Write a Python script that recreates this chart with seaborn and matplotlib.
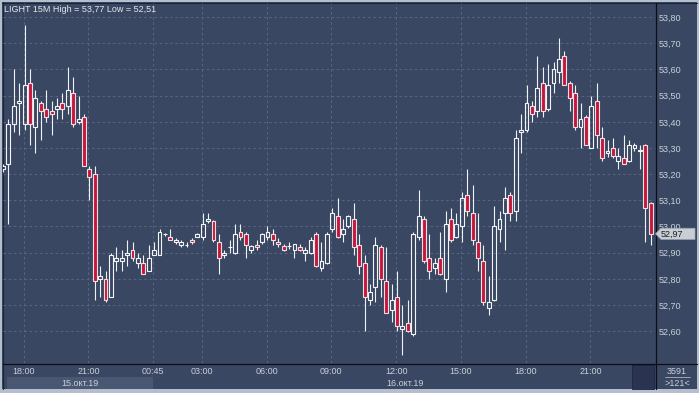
import numpy as np
import matplotlib
matplotlib.use("Agg")
import matplotlib.pyplot as plt
import seaborn as sns
from matplotlib.patches import Rectangle, Polygon
from matplotlib.colors import LinearSegmentedColormap

# ---------------- data (15-minute candles) ----------------
opens = [53.22, 53.24, 53.39, 53.47, 53.39, 53.55, 53.38, 53.47, 53.45, 53.44,
         53.45, 53.47, 53.46, 53.51, 53.40, 53.42, 53.22, 53.20, 52.80, 52.80,
         52.73, 52.87, 52.87, 52.89, 52.91, 52.86, 52.86, 52.83, 52.89, 52.89,
         52.97, 52.96, 52.94, 52.93, 52.93, 52.95, 52.96, 52.96, 53.02, 53.02,
         52.94, 52.89, 52.92, 52.90, 52.98, 52.97, 52.91, 52.93, 52.94, 52.96,
         52.97, 52.94, 52.925, 52.925, 52.91, 52.92, 52.90, 52.90, 52.97, 52.84,
         52.86, 52.99, 53.04, 52.97, 53.00, 53.03, 52.93, 52.86, 52.72, 52.77,
         52.92, 52.79, 52.68, 52.73, 52.61, 52.63, 52.59, 52.96, 53.03, 52.88,
         52.84, 52.88, 52.80, 53.03, 52.96, 53.00, 53.12, 53.05, 52.94, 52.87,
         52.69, 52.72, 52.99, 53.05, 53.12, 53.06, 53.36, 53.37, 53.46, 53.44,
         53.55, 53.45, 53.55, 53.59, 53.65, 53.55, 53.51, 53.38, 53.42, 53.30,
         53.48, 53.34, 53.28, 53.30, 53.25, 53.26, 53.25, 53.30, 53.29, 53.31,
         53.09]
highs = [53.24, 53.41, 53.60, 53.55, 53.77, 53.60, 53.52, 53.48, 53.52, 53.48,
         53.49, 53.51, 53.61, 53.57, 53.50, 53.43, 53.23, 53.23, 52.85, 52.83,
         52.90, 52.92, 52.91, 52.95, 52.94, 52.90, 52.89, 52.93, 52.94, 52.99,
         52.975, 52.99, 52.955, 52.95, 52.94, 52.955, 52.975, 53.05, 53.05, 53.025,
         52.97, 52.91, 52.95, 53.01, 53.01, 52.98, 52.93, 52.95, 52.975, 53.00,
         52.99, 52.955, 52.935, 52.94, 52.935, 52.935, 52.92, 52.96, 52.98, 52.94,
         52.98, 53.07, 53.11, 53.03, 53.045, 53.09, 52.97, 52.89, 52.78, 52.96,
         52.93, 52.92, 52.78, 52.83, 52.70, 52.72, 52.98, 53.14, 53.04, 52.97,
         52.88, 52.98, 53.06, 53.07, 53.05, 53.13, 53.22, 53.16, 53.05, 52.93,
         52.81, 53.08, 53.06, 53.15, 53.13, 53.37, 53.43, 53.54, 53.48, 53.65,
         53.61, 53.62, 53.63, 53.72, 53.67, 53.555, 53.54, 53.47, 53.425, 53.50,
         53.55, 53.38, 53.33, 53.34, 53.30, 53.35, 53.33, 53.32, 53.31, 53.315,
         53.095]
lows = [53.21, 53.01, 53.36, 53.35, 53.37, 53.31, 53.28, 53.33, 53.40, 53.35,
        53.41, 53.41, 53.43, 53.38, 53.39, 53.23, 53.10, 52.72, 52.73, 52.71,
        52.73, 52.83, 52.83, 52.85, 52.87, 52.84, 52.82, 52.83, 52.89, 52.89,
        52.965, 52.95, 52.935, 52.92, 52.92, 52.935, 52.96, 52.95, 53.015, 52.94,
        52.82, 52.88, 52.90, 52.895, 52.95, 52.88, 52.90, 52.91, 52.935, 52.95,
        52.93, 52.92, 52.905, 52.915, 52.88, 52.905, 52.87, 52.895, 52.845, 52.83,
        52.855, 52.98, 52.955, 52.94, 52.995, 52.89, 52.82, 52.60, 52.70, 52.71,
        52.73, 52.67, 52.635, 52.60, 52.51, 52.595, 52.58, 52.95, 52.86, 52.80,
        52.82, 52.815, 52.75, 52.94, 52.955, 52.94, 53.04, 52.93, 52.83, 52.70,
        52.66, 52.715, 52.94, 52.91, 53.02, 53.02, 53.28, 53.36, 53.40, 53.42,
        53.42, 53.44, 53.51, 53.55, 53.54, 53.44, 53.37, 53.30, 53.31, 53.30,
        53.30, 53.25, 53.265, 53.26, 53.22, 53.24, 53.245, 53.29, 53.22, 52.94,
        52.93]
closes = [53.23, 53.39, 53.46, 53.48, 53.54, 53.39, 53.49, 53.44, 53.42, 53.43,
          53.46, 53.45, 53.52, 53.39, 53.41, 53.23, 53.19, 52.79, 52.81, 52.72,
          52.89, 52.88, 52.88, 52.90, 52.88, 52.88, 52.82, 52.88, 52.91, 52.98,
          52.97, 52.95, 52.95, 52.94, 52.93, 52.94, 52.97, 53.01, 53.03, 52.95,
          52.88, 52.90, 52.92, 52.97, 52.96, 52.93, 52.925, 52.92, 52.97, 52.98,
          52.95, 52.935, 52.91, 52.925, 52.935, 52.91, 52.91, 52.95, 52.85, 52.87,
          52.97, 53.05, 52.96, 52.99, 53.04, 52.92, 52.85, 52.73, 52.75, 52.93,
          52.80, 52.67, 52.72, 52.62, 52.62, 52.60, 52.97, 53.04, 52.87, 52.83,
          52.86, 52.82, 53.01, 52.95, 53.01, 53.11, 53.06, 52.95, 52.88, 52.71,
          52.71, 53.00, 53.03, 53.11, 53.05, 53.34, 53.37, 53.47, 53.43, 53.53,
          53.44, 53.54, 53.60, 53.64, 53.54, 53.49, 53.38, 53.41, 53.31, 53.46,
          53.35, 53.26, 53.29, 53.27, 53.27, 53.24, 53.31, 53.31, 53.29, 53.07,
          52.97]

time_labels = ["18:00", "21:00", "00:45", "03:00", "06:00", "09:00",
               "12:00", "15:00", "18:00", "21:00"]
time_label_bars = [4, 16, 28, 37, 49, 61, 73, 85, 97, 109]
price_ticks = [52.6, 52.7, 52.8, 52.9, 53.0, 53.1, 53.2, 53.3, 53.4, 53.5, 53.6, 53.7, 53.8]
date_labels = ["15.окт.19", "16.окт.19"]
title_text = "LIGHT 15M High = 53,77 Low = 52,51"
last_price = 52.97
total_bars_text = "3591"
visible_bars_text = ">121<"

# ---------------- style ----------------
sns.set_theme(style="dark")
plt.rcParams["font.family"] = ["Liberation Sans", "DejaVu Sans"]

W, H = 699, 393
fig = plt.figure(figsize=(W / 100, H / 100), dpi=100)
fig.patch.set_facecolor("#b3bece")

TXT = "#c9d0db"
GRID = "#56647f"

# background axes in pixel coordinates
bg = fig.add_axes([0, 0, 1, 1], zorder=0)
bg.set_xlim(0, W)
bg.set_ylim(H, 0)
bg.axis("off")
bg.add_patch(Rectangle((2, 2), W - 4, 387, facecolor="#3a4762", edgecolor="none"))
cmap = LinearSegmentedColormap.from_list("bgg", ["#414e6a", "#36425d", "#2a344e"])
grad = np.linspace(0, 1, 256).reshape(-1, 1)
bg.imshow(grad, cmap=cmap, aspect="auto", extent=(3, W - 2, 363, 3), origin="upper",
          interpolation="bilinear")
bg.add_patch(Rectangle((7, 377), 146, 12, facecolor="#4a5773", edgecolor="none"))
bg.add_patch(Rectangle((632, 365), 22, 24, facecolor="#2a3450", edgecolor="#1f2740", lw=0.6))
# frame lines
bg.plot([2.5, 2.5], [2, 389], color="#1c2333", lw=0.8)
bg.plot([2, W - 2], [2.5, 2.5], color="#1c2333", lw=0.8)
bg.plot([655.5, 655.5], [3, 389], color="#0b0e16", lw=0.9)
bg.plot([3, W - 2], [363.5, 363.5], color="#0b0e16", lw=0.9)
bg.plot([665, 690], [376.7, 376.7], color="#a9b3c2", lw=0.6)
bg.set_xlim(0, W)
bg.set_ylim(H, 0)

bg.text(677, 374.3, total_bars_text, ha="center", va="baseline", fontsize=6.5, color=TXT)
bg.text(677, 386, visible_bars_text, ha="center", va="baseline", fontsize=6.5, color=TXT)
bg.text(80, 386, date_labels[0], ha="center", va="baseline", fontsize=6.5, color=TXT)
bg.text(405, 386, date_labels[1], ha="center", va="baseline", fontsize=6.5, color=TXT)

# main chart axes
ax = fig.add_axes([3 / W, 1 - 363 / H, (655 - 3) / W, (363 - 3) / H], zorder=2)
ax.patch.set_alpha(0)
for s in ax.spines.values():
    s.set_visible(False)

x = np.arange(len(opens))
o = np.array(opens); h = np.array(highs); l = np.array(lows); c = np.array(closes)
up = c >= o
body_top = np.maximum(o, c)
body_bot = np.minimum(o, c)

ax.set_xlim(0, 120.8)
ax.set_ylim(52.4784, 53.854)

tick_x = np.array(time_label_bars) - 0.17
ax.set_xticks(tick_x)
ax.set_xticklabels(time_labels)
ax.set_yticks(price_ticks)
ax.set_yticklabels([f"{p:.2f}".replace(".", ",") for p in price_ticks])
ax.yaxis.tick_right()
ax.tick_params(axis="y", length=0, pad=2.3, labelsize=6.5, labelcolor=TXT,
               left=False, right=False, labelleft=False, labelright=True)
ax.tick_params(axis="x", length=0, pad=2.6, labelsize=6.5, labelcolor=TXT)
ax.grid(True, color=GRID, linestyle=(0, (2.5, 2.5)), linewidth=0.75)
ax.set_axisbelow(True)

WICK = "#eef1f5"
ax.vlines(x, body_top, h, color=WICK, lw=0.8, zorder=3)
ax.vlines(x, l, body_bot, color=WICK, lw=0.8, zorder=3)
heights = np.maximum(body_top - body_bot, 0.0012)
ax.bar(x[up], heights[up], bottom=body_bot[up], width=0.72, facecolor="none",
       edgecolor="#f2f4f7", linewidth=0.8, zorder=4)
ax.bar(x[~up], heights[~up], bottom=body_bot[~up], width=0.72, facecolor="#c3183c",
       edgecolor="#f0dde2", linewidth=0.8, zorder=4)

# overlay for title and last-price tag
ov = fig.add_axes([0, 0, 1, 1], zorder=5)
ov.set_xlim(0, W)
ov.set_ylim(H, 0)
ov.axis("off")
ov.patch.set_alpha(0)
ov.text(4, 11.7, title_text, ha="left", va="baseline", fontsize=6.5, color="#e3e7ee")

yc = H - ax.transData.transform((0, last_price))[1] - 0.5
tag = Polygon([(655.5, yc), (661, yc - 5.6), (695, yc - 5.6), (695, yc + 5.6), (661, yc + 5.6)],
              closed=True, facecolor="#c9cdd4", edgecolor="#9aa3b0", lw=0.5)
ov.add_patch(tag)
ov.text(660.5, yc + 3.4, f"{last_price:.2f}".replace(".", ","), ha="left", va="baseline",
        fontsize=6.5, color="#1b1f27")

fig.savefig("out.png", dpi=100, facecolor=fig.get_facecolor())
